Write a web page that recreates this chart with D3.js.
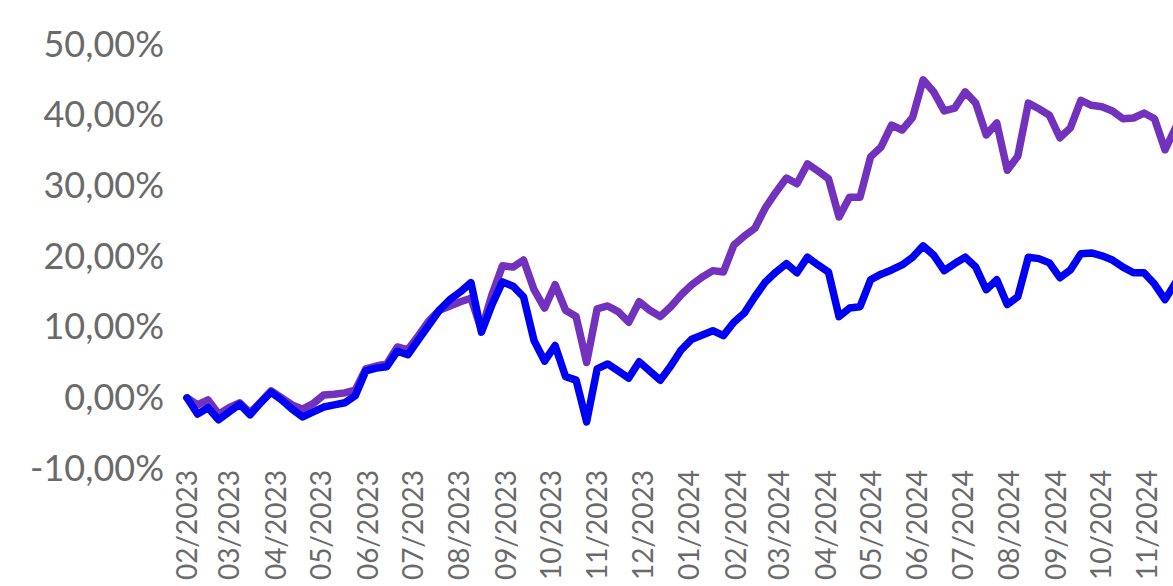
<!DOCTYPE html>
<html>
<head>
<meta charset="utf-8">
<script src="https://cdn.jsdelivr.net/npm/d3@7"></script>
<style>
  html, body { margin: 0; padding: 0; background: #fff; }
  svg { display: block; }
</style>
</head>
<body>
<svg id="chart" width="1173" height="586"></svg>
<script>
// ---- data (weekly, starting 01/02/2023) ----
const startDate = "2023-02-01";
const weeks = 95;
const purpleSeries = [
  0.0, -1.0, -0.3, -2.3, -1.4, -0.7, -2.1, -0.6, 1.0, 0.0,
  -1.0, -1.6, -0.8, 0.4, 0.5, 0.7, 1.1, 4.1, 4.5, 4.8,
  7.2, 6.8, 8.8, 10.9, 12.4, 13.0, 13.6, 14.1, 9.6, 14.6,
  18.7, 18.5, 19.5, 15.3, 12.7, 16.0, 12.4, 11.5, 5.0, 12.6,
  13.0, 12.2, 10.7, 13.6, 12.4, 11.5, 12.9, 14.6, 16.0, 17.1,
  18.0, 17.8, 21.6, 22.9, 24.0, 26.9, 29.1, 31.1, 30.3, 33.1,
  32.1, 31.0, 25.6, 28.4, 28.4, 34.1, 35.5, 38.6, 37.9, 39.7,
  45.0, 43.3, 40.6, 41.0, 43.3, 41.7, 37.2, 38.9, 32.2, 34.2,
  41.7, 40.9, 40.0, 36.8, 38.2, 42.1, 41.4, 41.2, 40.6, 39.5,
  39.6, 40.3, 39.5, 35.1, 38.2
];
const blueSeries = [
  0.0, -2.3, -1.4, -3.1, -2.0, -0.9, -2.4, -0.7, 0.8, -0.3,
  -1.6, -2.7, -2.0, -1.3, -1.0, -0.7, 0.3, 3.8, 4.2, 4.4,
  6.6, 6.1, 8.2, 10.3, 12.4, 13.9, 15.0, 16.3, 9.3, 13.2,
  16.4, 15.8, 14.3, 8.1, 5.2, 7.4, 3.0, 2.5, -3.4, 4.1,
  4.8, 3.8, 2.8, 5.1, 3.8, 2.5, 4.5, 6.8, 8.3, 8.9,
  9.5, 8.8, 10.7, 12.0, 14.3, 16.4, 17.8, 19.0, 17.7, 19.9,
  18.8, 17.8, 11.5, 12.7, 12.9, 16.7, 17.5, 18.1, 18.8, 19.9,
  21.5, 20.2, 18.0, 19.0, 19.9, 18.5, 15.3, 16.7, 13.2, 14.3,
  19.9, 19.7, 19.1, 17.0, 18.1, 20.4, 20.5, 20.1, 19.5, 18.5,
  17.7, 17.7, 16.1, 13.9, 16.3
];
const yTicks = [-10, 0, 10, 20, 30, 40, 50];
const monthStart = "2023-02-01";
const monthEnd = "2024-11-01";

// ---- build ----
const parse = d3.utcParse("%Y-%m-%d");
const d0 = parse(startDate);
const dates = d3.range(weeks).map(i => d3.utcDay.offset(d0, 7 * i));
const m0 = parse(monthStart), m1 = parse(monthEnd);

const svg = d3.select("#chart");
svg.append("rect").attr("width", 1173).attr("height", 586).attr("fill", "#fff");

const x = d3.scaleUtc().domain([m0, m1]).range([187, 1147]);
const y = d3.scaleLinear().domain([-10, 50]).range([468.5, 44.5]);

const fmtPct = v => (v < 0 ? "-" : "") + d3.format(".2f")(Math.abs(v)).replace(".", ",") + "%";
const FONT = "Lato, 'Open Sans', sans-serif";

// y axis labels
const yAxis = d3.axisLeft(y).tickValues(yTicks).tickFormat(fmtPct).tickSize(0).tickPadding(0);
const gy = svg.append("g").attr("transform", "translate(164,0)").call(yAxis);
gy.select(".domain").remove();
gy.selectAll("text")
  .attr("fill", "#6a6a6a")
  .style("font-family", FONT)
  .style("font-size", "36px");

// x axis labels
const months = d3.utcMonth.range(m0, d3.utcDay.offset(m1, 1));
const xAxis = d3.axisBottom(x).tickValues(months).tickFormat(d3.utcFormat("%m/%Y")).tickSize(0).tickPadding(0);
const gx = svg.append("g").attr("transform", "translate(0,470)").call(xAxis);
gx.select(".domain").remove();
gx.selectAll("text")
  .attr("fill", "#6a6a6a")
  .style("font-family", FONT)
  .style("font-size", "28px")
  .attr("text-anchor", "end")
  .attr("transform", "rotate(-90)")
  .attr("x", 0)
  .attr("y", 0)
  .attr("dy", "0.35em");

// lines
const line = d3.line()
  .x((d, i) => x(dates[i]))
  .y(d => y(d));

svg.append("path")
  .datum(purpleSeries)
  .attr("d", line)
  .attr("fill", "none")
  .attr("stroke", "#7232BE")
  .attr("stroke-width", 7.5)
  .attr("stroke-linejoin", "round")
  .attr("stroke-linecap", "round");

svg.append("path")
  .datum(blueSeries)
  .attr("d", line)
  .attr("fill", "none")
  .attr("stroke", "#0000F5")
  .attr("stroke-width", 7.5)
  .attr("stroke-linejoin", "round")
  .attr("stroke-linecap", "round");
</script>
</body>
</html>
